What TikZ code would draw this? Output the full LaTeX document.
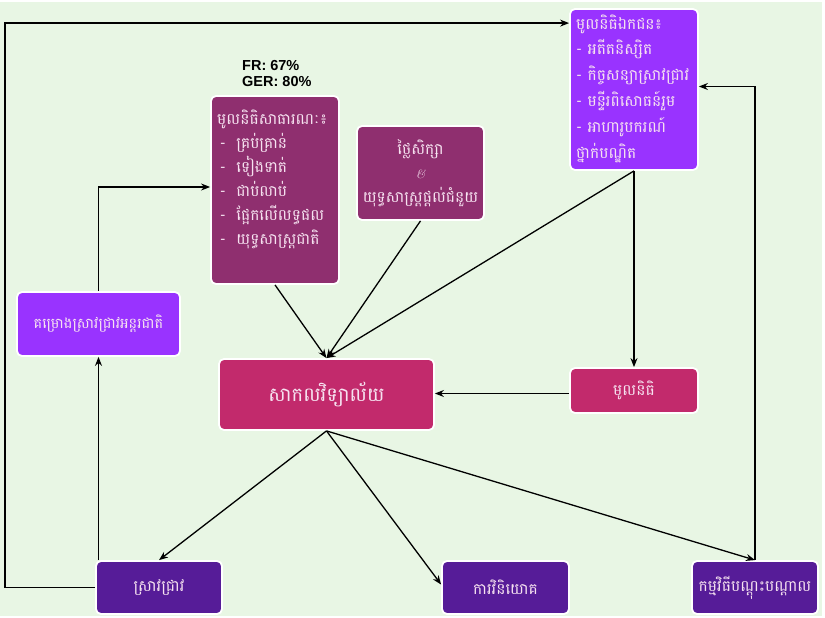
\documentclass[tikz,border=0pt]{standalone}
\usepackage{fontspec}
\newfontfamily\kh[Script=Khmer]{Battambang}
\newfontfamily\arialb{Liberation Sans}
\usetikzlibrary{arrows.meta,calc}
\definecolor{bggreen}{HTML}{E8F6E4}
\definecolor{plum}{HTML}{8F2F6F}
\definecolor{violet}{HTML}{9933FF}
\definecolor{rose}{HTML}{C22A6C}
\definecolor{deep}{HTML}{561C98}
\definecolor{ktext}{HTML}{F6E2F0}
\tikzset{
  box/.style={draw=white, line width=1.8pt, rounded corners=5pt, inner sep=0pt},
  ktxt/.style={text=ktext, font=\kh\fontsize{15.5}{24}\selectfont, inner sep=0pt},
  conn/.style={draw=black, line width=1.3pt, -{Stealth[length=9pt,width=7pt]}},
}
\begin{document}
\begin{tikzpicture}[x=1pt,y=-1pt]
\useasboundingbox (0,0) rectangle (825,618);
\fill[white] (0,0) rectangle (825,618);
\fill[bggreen] (0,2) rectangle (822,616);

% boxes
\node[box, fill=plum, minimum width=128pt, minimum height=188pt] (pub) at (275,190) {};
\node[box, fill=plum, minimum width=127pt, minimum height=94pt] (tui) at (420.5,173) {};
\node[box, fill=violet, minimum width=128pt, minimum height=161pt] (priv) at (634,89.5) {};
\node[box, fill=violet, minimum width=163pt, minimum height=64pt] (intl) at (98.5,324) {};
\node[box, fill=rose, minimum width=215pt, minimum height=71pt] (uni) at (326.5,394.5) {};
\node[box, fill=rose, minimum width=128pt, minimum height=45pt] (fund) at (634,390.5) {};
\node[box, fill=deep, minimum width=126pt, minimum height=53pt] (res) at (159,587.5) {};
\node[box, fill=deep, minimum width=127pt, minimum height=53pt] (inv) at (505.5,587.5) {};
\node[box, fill=deep, minimum width=126pt, minimum height=53pt] (train) at (755,587.5) {};

% texts
\node[font=\arialb\bfseries\fontsize{14.5}{17}\selectfont, align=left, anchor=base west, inner sep=0pt] (rates) at (242,87) {FR: 67\%\\GER: 80\%};

\node[ktxt, anchor=base west, align=left] (pubtxt) at (217,244) {មូលនិធិសាធារណៈ៖\\
\,-\ \ គ្រប់គ្រាន់\\
\,-\ \ ទៀងទាត់\\
\,-\ \ ជាប់លាប់\\
\,-\ \ ផ្អែកលើលទ្ធផល\\
\,-\ \ យុទ្ធសាស្ត្រជាតិ};

\node[ktxt, align=center] (tuitxt) at (tui.center) {ថ្លៃសិក្សា\\ {\normalfont\large\itshape\&}\\ យុទ្ធសាស្ត្រផ្តល់ជំនួយ};

\node[ktxt, anchor=base west, align=left, font=\kh\fontsize{15.5}{25.8}\selectfont] (privtxt) at (576,158) {មូលនិធិឯកជន៖\\
- អតីតនិស្សិត\\
- កិច្ចសន្យាស្រាវជ្រាវ\\
- មន្ទីរពិសោធន៍រួម\\
- អាហារូបករណ៍\\
ថ្នាក់បណ្ឌិត};

\node[ktxt, font=\kh\fontsize{14.5}{24}\selectfont] (intltxt) at (intl.center) {គម្រោងស្រាវជ្រាវអន្តរជាតិ};
\node[ktxt, font=\kh\fontsize{19.5}{24}\selectfont] (unitxt) at (uni.center) {សាកលវិទ្យាល័យ};
\node[ktxt] (fundtxt) at (fund.center) {មូលនិធិ};
\node[ktxt] (restxt) at (res.center) {ស្រាវជ្រាវ};
\node[ktxt] (invtxt) at (inv.center) {ការវិនិយោគ};
\node[ktxt] (traintxt) at (train.center) {កម្មវិធីបណ្តុះបណ្តាល};

% connectors
\coordinate (privin) at ($(priv.north west)+(0,15)$);
\draw[conn] (pub.south) -- (uni.north);
\draw[conn] (tui.south) -- (uni.north);
\draw[conn] (priv.south) -- (uni.north);
\draw[conn] (priv.south) -- (fund.north);
\draw[conn] ($(fund.west)+(0,3)$) -- ($(fund.west -| uni.east)+(0,3)$);
\draw[conn] (uni.south) -- (res.north);
\draw[conn] (uni.south) -- ($(inv.west)+(0,-3)$);
\draw[conn] (uni.south) -- (train.north);
\draw[conn] (res.north west -| intl.south) -- (intl.south);
\draw[conn] (intl.north) |- ($(pub.west)+(0,-3)$);
\draw[conn] (res.west) -- ++(-90,0) |- (privin);
\draw[conn] (train.north) |- ($(priv.east)+(0,-3)$);
\end{tikzpicture}
\end{document}
